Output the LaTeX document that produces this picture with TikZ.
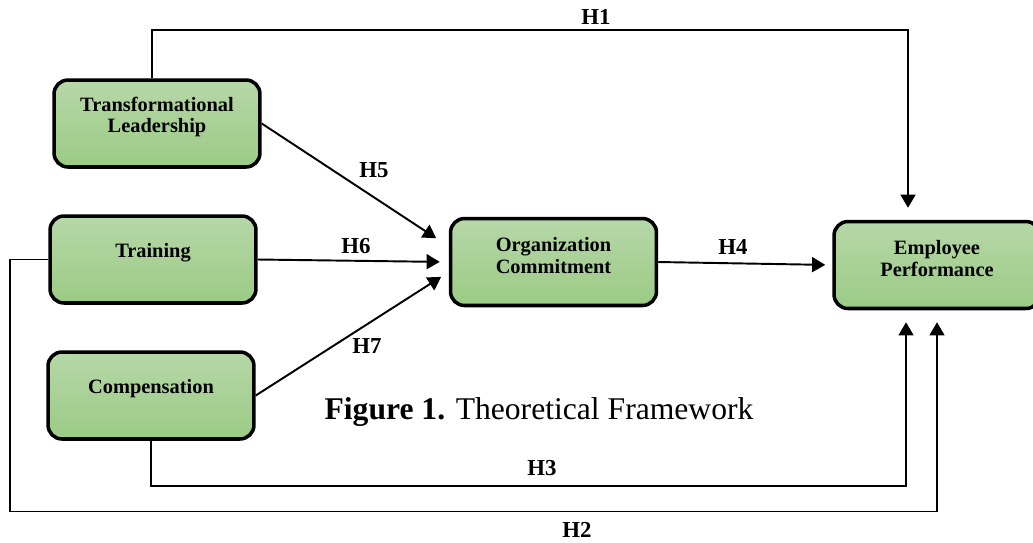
\documentclass[tikz,border=0pt]{standalone}
\usepackage{fontspec}
\setmainfont{Liberation Serif}
\usepackage{xcolor}
\usetikzlibrary{arrows.meta}

\definecolor{boxtop}{RGB}{183,215,168}
\definecolor{boxbottom}{RGB}{155,203,133}

\begin{document}
\begin{tikzpicture}[x=0.02cm,y=-0.02cm,
    factor/.style={draw=black,line width=2pt,rounded corners=0.28cm,
        minimum width=4.12cm,minimum height=1.74cm,
        top color=boxtop,bottom color=boxbottom},
    factortext/.style={align=center,font=\fontsize{11.6}{12.5}\selectfont\bfseries,yshift=0.13cm},
    link/.style={line width=1.1pt,-{Triangle[length=7.5pt,width=8.5pt]}},
    hyp/.style={font=\fontsize{13}{15}\selectfont\bfseries}]
    \useasboundingbox (0,0) rectangle (1033,542);

    \node[factor,label={[factortext]center:Transformational\\Leadership}] (TL) at (157,123.5) {};
    \node[factor,label={[factortext]center:Training}] (TR) at (153,259.5) {};
    \node[factor,label={[factortext]center:Compensation}] (CP) at (151,395.5) {};
    \node[factor,label={[factortext]center:Organization\\Commitment}] (OC) at (553.5,262) {};
    \node[factor,label={[factortext]center:Employee\\Performance}] (EP) at (937,265) {};

    \draw[link,shorten >=0.24cm] ([xshift=-0.1cm]TL.north) -- ++(0,-48) -| ([xshift=-0.58cm]EP.north);
    \draw[link,shorten >=0.3cm] (TL.east) -- ([yshift=0.31cm]OC.west);
    \draw[link,shorten >=0.18cm] (TR.east) -- (OC.west);
    \draw[link,shorten >=0.18cm] (CP.east) -- ([yshift=-0.2cm]OC.west);
    \draw[link,shorten >=0.14cm] (OC.east) -- (EP.west);
    \draw[link,shorten >=0.24cm] (CP.south) -- ++(0,45) -| ([xshift=-0.62cm]EP.south);
    \draw[link,shorten >=0.24cm] (TR.west) -| ++(-38,252) -| (EP.south);

    \node[hyp] (H1) at (596,17) {H1};
    \node[hyp] (H5) at (374,170) {H5};
    \node[hyp] (H6) at (356,246) {H6};
    \node[hyp] (H7) at (367,346) {H7};
    \node[hyp] (H4) at (733,247) {H4};
    \node[hyp] (H3) at (542,468) {H3};
    \node[hyp] (H2) at (577,530) {H2};

    \node[font=\fontsize{18}{22}\selectfont,anchor=base] (caption) at (539,419) {\textbf{Figure 1.} Theoretical Framework};
\end{tikzpicture}
\end{document}
